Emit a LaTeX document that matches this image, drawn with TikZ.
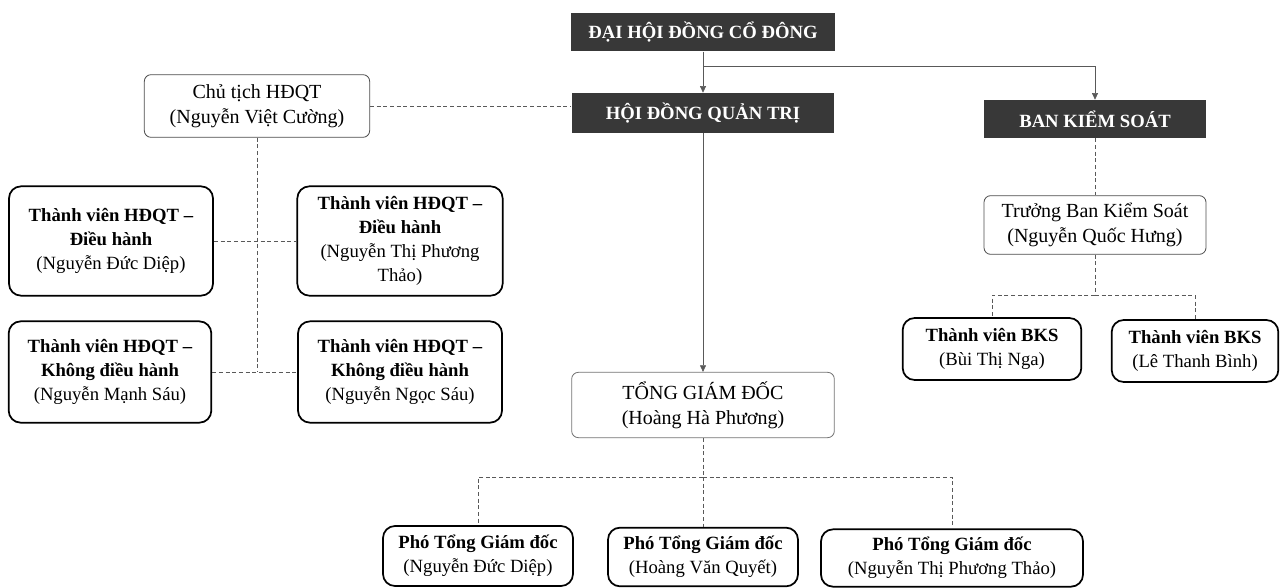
\documentclass[tikz,border=0pt]{standalone}
\usepackage{fontspec}
\setmainfont{Liberation Serif}
\usetikzlibrary{arrows.meta}
\begin{document}
\begin{tikzpicture}[x=0.75pt,y=-0.75pt,
    every node/.style={font=\fontsize{14}{18}\selectfont, align=center, inner sep=2pt},
    darkbox/.style={fill=black!78, text=white, font=\fontsize{14}{18}\selectfont\bfseries},
    thinbox/.style={draw=black!70, line width=0.6pt, rounded corners=5pt, font=\fontsize{15}{18.5}\selectfont},
    thickbox/.style={draw=black, line width=1.3pt, rounded corners=9pt},
    link/.style={draw=black!65, line width=0.5pt},
    dashlink/.style={draw=black!65, line width=0.5pt, dash pattern=on 3pt off 2pt},
    arr/.style={-{Triangle[width=4.5pt,length=5pt]}}]

    % Fix the page to the reference size
    \useasboundingbox (0,0) rectangle (1281,588);

    % Top level boxes
    \node[darkbox, minimum width=198pt, minimum height=29pt] (dhdcd) at (703,32) {ĐẠI HỘI ĐỒNG CỔ ĐÔNG};
    \node[darkbox, minimum width=197pt, minimum height=30pt] (hdqt) at (703,113) {HỘI ĐỒNG QUẢN TRỊ};
    \node[darkbox, minimum width=167pt, minimum height=28.5pt] (bks) at (1095,119) {BAN KIỂM SOÁT};

    % Arrows from the general meeting
    \coordinate (topbus) at (dhdcd.south |- 0,66);
    \draw[link, arr] (dhdcd.south) -- (hdqt.north);
    \draw[link, arr] (topbus) -| (bks.north);

    % Chairman and board members
    \node[thinbox, minimum width=169pt, minimum height=47pt] (chutich) at (257,106) {Chủ tịch HĐQT\\(Nguyễn Việt Cường)};
    \draw[dashlink] (chutich.east) -- (chutich.east -| hdqt.west);

    \node[thickbox, minimum width=153pt, minimum height=82pt] (tvdh1) at (111,241)
        {\textbf{Thành viên HĐQT –}\\\textbf{Điều hành}\\(Nguyễn Đức Diệp)};
    \node[thickbox, minimum width=154pt, minimum height=82pt] (tvdh2) at (400,241)
        {\textbf{Thành viên HĐQT –}\\\textbf{Điều hành}\\(Nguyễn Thị Phương\\Thảo)};
    \node[thickbox, minimum width=152pt, minimum height=76pt] (tvkdh1) at (110,372)
        {\textbf{Thành viên HĐQT –}\\\textbf{Không điều hành}\\(Nguyễn Mạnh Sáu)};
    \node[thickbox, minimum width=153pt, minimum height=76pt] (tvkdh2) at (400,372)
        {\textbf{Thành viên HĐQT –}\\\textbf{Không điều hành}\\(Nguyễn Ngọc Sáu)};

    % Dashed links between chairman and members
    \draw[dashlink] (chutich.south) -- (chutich.south |- tvkdh1.east);
    \draw[dashlink] (tvdh1.east) -- (tvdh2.west);
    \draw[dashlink] (tvkdh1.east) -- (tvkdh2.west);

    % General director
    \node[thinbox, draw=black!55, minimum width=197pt, minimum height=49pt] (tgd) at (703,405) {TỔNG GIÁM ĐỐC\\(Hoàng Hà Phương)};
    \draw[link, arr] (hdqt.south) -- (tgd.north);

    % Supervisory board
    \node[thinbox, minimum width=166.5pt, minimum height=44pt] (truongbks) at (1095,225) {Trưởng Ban Kiểm Soát\\(Nguyễn Quốc Hưng)};
    \draw[dashlink] (bks.south) -- (truongbks.north);

    \node[thickbox, minimum width=134pt, minimum height=46.5pt] (tvbks1) at (992,349) {\textbf{Thành viên BKS}\\(Bùi Thị Nga)};
    \node[thickbox, minimum width=125pt, minimum height=46.5pt] (tvbks2) at (1195,351) {\textbf{Thành viên BKS}\\(Lê Thanh Bình)};

    \coordinate (bksbus) at (truongbks.south |- 0,295);
    \draw[dashlink] (truongbks.south) -- (bksbus);
    \foreach \m in {tvbks1,tvbks2} {
        \draw[dashlink] (bksbus) -| (\m.north);
    }

    % Deputy general directors
    \node[thickbox, minimum width=142.5pt, minimum height=45pt] (ptgd1) at (478,556) {\textbf{Phó Tổng Giám đốc}\\(Nguyễn Đức Diệp)};
    \node[thickbox, minimum width=142.5pt, minimum height=44pt] (ptgd2) at (703,557) {\textbf{Phó Tổng Giám đốc}\\(Hoàng Văn Quyết)};
    \node[thickbox, minimum width=196.5pt, minimum height=43pt] (ptgd3) at (952,558) {\textbf{Phó Tổng Giám đốc}\\(Nguyễn Thị Phương Thảo)};

    \coordinate (tgdbus) at (tgd.south |- 0,477);
    \draw[dashlink] (tgd.south) -- (tgdbus);
    \foreach \p in {ptgd1,ptgd2,ptgd3} {
        \draw[dashlink] (tgdbus) -| (\p.north);
    }
\end{tikzpicture}
\end{document}
